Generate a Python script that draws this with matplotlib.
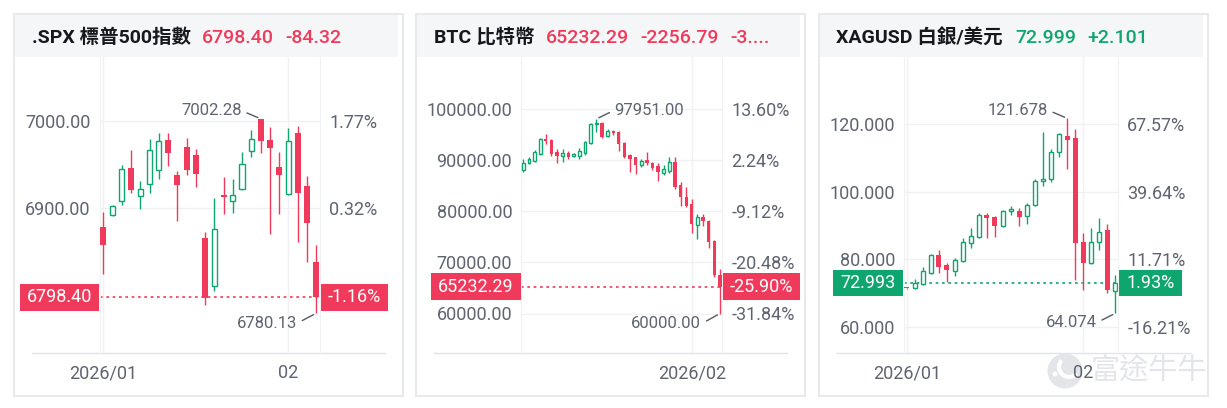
"""
三張日K小卡片：標普500、比特幣、白銀，仿富途牛牛行情卡。
"""

import numpy as np
import matplotlib
matplotlib.use("Agg")
import matplotlib.pyplot as plt
import matplotlib.transforms as mtransforms
from matplotlib.patches import Rectangle, Ellipse, Arc
from matplotlib.lines import Line2D

plt.rcParams.update({
    "font.family": ["Roboto", "Noto Sans CJK TC", "DejaVu Sans"],
    "font.size": 13,
})

RED = "#f03a5b"
GREEN = "#0fa56e"
TXT = "#5f6470"
GRID = "#f0f1f3"
AXLINE = "#e2e3e6"
BORDER = "#e8e9eb"
HEAD_BG = "#f5f6f8"

# ---------------------------------------------------------------------------
# Data
# ---------------------------------------------------------------------------
spx_open = [6878.2, 6892.0, 6908.2, 6945.8, 6913.8, 6927.7, 6943.9, 6977.8, 6937.9, 6969.5,
            6960.9, 6866.4, 6811.4, 6914.9, 6908.2, 6922.5, 6965.8, 7001.9, 6977.8, 6947.7,
            6916.5, 6985.4, 6925.1, 6838.5]
spx_high = [6895.7, 6903.3, 6949.6, 6966.5, 6931.5, 6978.6, 6986.5, 6986.5, 6942.1, 6979.7,
            6967.3, 6873.2, 6911.2, 6935.7, 6933.8, 6964.6, 6989.1, 7002.28, 6992.9, 6964.6,
            6992.1, 6994.0, 6936.4, 6858.5]
spx_low = [6824.6, 6891.2, 6903.3, 6917.6, 6899.5, 6917.6, 6933.4, 6948.5, 6885.6, 6938.3,
           6924.4, 6789.6, 6805.4, 6893.1, 6895.0, 6921.3, 6959.0, 6962.8, 6870.5, 6893.1,
           6914.9, 6861.9, 6838.5, 6780.13]
spx_close = [6858.5, 6902.5, 6945.1, 6920.6, 6922.1, 6966.5, 6977.1, 6963.5, 6926.2, 6943.9,
             6939.4, 6797.9, 6876.2, 6913.4, 6915.7, 6950.3, 6978.6, 6977.1, 6968.4, 6938.3,
             6976.7, 6917.6, 6882.72, 6798.40]
spx_yticks = [6900, 7000]
spx_xticks = [0, 20]
spx_xlabels = ["2026/01", "02"]
spx_header = [".SPX 標普500指數", "6798.40", "-84.32"]

btc_open = [88030, 89291, 89812, 91114, 94108, 93848, 91569, 90723, 91244, 90723,
            90723, 91244, 93197, 96908, 97103, 94629, 95606, 95476, 93327, 90918,
            90463, 88966, 89942, 89421, 88770, 87468, 87794, 89486, 85060, 82781,
            81349, 77248, 78875, 78094, 74188, 67489]
btc_high = [90072, 90593, 91895, 94304, 95020, 94043, 92025, 92025, 91700, 91374,
            92351, 93718, 97233, 97951, 97363, 95931, 95801, 95671, 93523, 91114,
            90593, 90072, 91439, 89617, 89291, 88966, 90593, 90593, 85710, 84604,
            82260, 79331, 79331, 78224, 74318, 68654]
btc_low = [87664, 89161, 89617, 90919, 92992, 90788, 89291, 89617, 90072, 90463,
           90072, 90919, 92992, 95476, 94174, 94499, 94890, 91765, 90268, 87664,
           87208, 88640, 88966, 87989, 85906, 87013, 87468, 84213, 80958, 80698,
           75620, 74448, 77052, 72821, 67157, 60000]
btc_close = [89421, 90072, 91439, 93978, 93588, 91114, 90723, 91244, 90593, 91049,
             91765, 93523, 96973, 97103, 94499, 95671, 95150, 93067, 90593, 90072,
             88900, 89812, 89291, 88315, 87664, 88184, 89617, 84734, 82781, 80958,
             77443, 78875, 78094, 73993, 67489, 65232.29]
btc_yticks = [60000, 70000, 80000, 90000, 100000]
btc_xticks = [30]
btc_xlabels = ["2026/02"]
btc_header = ["BTC 比特幣", "65232.29", "-2256.79", "-3...."]

xag_open = [71.611, 71.45, 72.73, 76.08, 81.30, 78.34, 76.67, 79.62, 84.94, 86.71,
            93.12, 92.62, 89.87, 94.39, 94.39, 92.92, 96.07, 103.26, 103.65, 111.83,
            116.45, 115.76, 85.24, 78.83, 85.24, 88.68, 70.76]
xag_high = [71.611, 74.11, 77.85, 81.59, 82.77, 78.84, 80.51, 86.22, 89.18, 93.61,
            93.61, 92.82, 94.59, 95.77, 95.08, 96.56, 103.65, 117.73, 112.52, 117.44,
            121.678, 118.42, 87.89, 89.18, 92.13, 90.46, 75.39]
xag_low = [71.40, 71.15, 72.43, 75.68, 76.08, 73.42, 75.19, 79.33, 83.27, 86.42,
           86.22, 86.52, 89.47, 93.12, 89.87, 90.46, 95.77, 101.68, 102.77, 110.15,
           106.61, 73.91, 70.96, 78.64, 82.77, 70.17, 64.074]
xag_close = [71.45, 72.93, 76.47, 81.30, 77.85, 76.87, 79.82, 85.04, 86.91, 93.12,
             92.13, 89.87, 94.30, 94.59, 92.62, 96.07, 103.26, 103.45, 111.83, 116.95,
             115.27, 84.94, 78.83, 85.24, 88.19, 70.898, 72.993]
xag_yticks = [60, 80, 100, 120]
xag_xticks = [0, 22]
xag_xlabels = ["2026/01", "02"]
xag_header = ["XAGUSD 白銀/美元", "72.999", "+2.101"]

# ---------------------------------------------------------------------------
# Layout (pixels)
# ---------------------------------------------------------------------------
W, H = 1227, 408
TOP, BOT = 57, 353
CARD_W = 389

fig = plt.figure(figsize=(W / 100, H / 100), dpi=100)
fig.patch.set_facecolor("white")


def fx(x):
    return x / W


def fy(y):
    return 1 - y / H


def card(cx, header, head_x, head_col):
    fig.add_artist(Rectangle((fx(cx), fy(396)), CARD_W / W, 382 / H,
                             transform=fig.transFigure, fc="white", ec=BORDER,
                             lw=1.5, zorder=-10))
    fig.add_artist(Rectangle((fx(cx + 1), fy(TOP)), (CARD_W - 6) / W, 42 / H,
                             transform=fig.transFigure, fc=HEAD_BG, ec="none",
                             zorder=-9))
    fig.add_artist(Line2D([fx(cx + 18), fx(cx + 371)], [fy(BOT), fy(BOT)],
                          transform=fig.transFigure, color=AXLINE, lw=1, zorder=-8))
    for i, (s, x) in enumerate(zip(header, head_x)):
        fig.text(fx(x), fy(43.3), s, fontsize=14, va="baseline",
                 color="#16181d" if i == 0 else head_col,
                 fontweight="bold" if i == 0 else "medium")


def candles(plot_x, x_first, step, cal, body_w, o, h, l, c,
            yticks, xticks, xlabels, dec, lbox, rbox, hi_off, lo_off):
    o, h, l, c = (np.asarray(a, dtype=float) for a in (o, h, l, c))
    x = np.arange(len(o))

    ax = fig.add_axes([fx(plot_x[0]), fy(BOT), (plot_x[1] - plot_x[0]) / W, (BOT - TOP) / H])
    ax.set_facecolor("none")
    v1, y1, v2, y2 = cal
    ppu = (y2 - y1) / (v1 - v2)          # pixels per price unit
    ax.set_ylim(v1 - (BOT - y1) / ppu, v1 + (y1 - TOP) / ppu)
    ax.set_xlim((plot_x[0] - x_first) / step, (plot_x[1] - x_first) / step)

    up = c >= o
    cols = np.where(up, GREEN, RED)
    ax.vlines(x, l, h, colors=cols, lw=1.0, zorder=2)
    minh = 1.3 / ppu
    bot = np.minimum(o, c)
    hgt = np.maximum(np.abs(c - o), minh)
    ax.bar(x[~up], hgt[~up], bottom=bot[~up], width=body_w, color=RED, lw=0, zorder=3)
    ax.bar(x[up], hgt[up], bottom=bot[up], width=body_w - 0.08, facecolor="white",
           edgecolor=GREEN, lw=1.0, zorder=3)

    last_col = GREEN if up[-1] else RED
    ax.axhline(c[-1], color=last_col, lw=1.2, ls=(0, (1.6, 2.2)), zorder=1)

    base = o[0]

    def pct(v):
        return f"{(v / base - 1) * 100:.2f}%"

    ax.set_yticks(yticks)
    ax.set_yticklabels([f"{t:.{dec}f}" for t in yticks])
    ax.set_xticks(xticks)
    ax.set_xticklabels(xlabels)
    ax.grid(True, color=GRID, lw=1)
    ax.set_axisbelow(True)
    for s in ("top", "bottom"):
        ax.spines[s].set_visible(False)
    for s in ("left", "right"):
        ax.spines[s].set_color(GRID)
    ax.tick_params(length=0, colors=TXT, labelsize=13)
    ax.tick_params(axis="y", pad=6.6)
    ax.tick_params(axis="x", pad=8)

    ax2 = ax.twinx()
    ax2.set_ylim(ax.get_ylim())
    ax2.set_yticks(yticks)
    ax2.set_yticklabels([pct(t) for t in yticks])
    ax2.tick_params(length=0, colors=TXT, labelsize=13, pad=6.6)
    for s in ax2.spines.values():
        s.set_visible(False)

    # 最新價標籤
    trans = mtransforms.blended_transform_factory(fig.transFigure, ax.transData)
    half = 13.3 / ppu
    for (bx0, bx1), s in ((lbox, f"{c[-1]:.{dec}f}"), (rbox, pct(c[-1]))):
        ax.add_patch(Rectangle((fx(bx0), c[-1] - half), (bx1 - bx0) / W, 2 * half,
                               transform=trans, fc=last_col, ec="none",
                               clip_on=False, zorder=5))
        ax.text(fx((bx0 + bx1) / 2), c[-1], s, transform=trans, ha="center",
                va="center", color="white", fontsize=13, clip_on=False, zorder=6)

    # 最高/最低標註
    ih, il = int(np.argmax(h)), int(np.argmin(l))
    for idx, val, off in ((ih, h[ih], hi_off), (il, l[il], lo_off)):
        right = off[0] < 0
        ax.annotate(f"{val:.{dec}f}", xy=(idx, val),
                    xytext=(off[0] * 0.72, -off[1] * 0.72), textcoords="offset points",
                    ha="right" if right else "left", va="center", color=TXT, fontsize=12,
                    arrowprops=dict(arrowstyle="-", color="#555a63", lw=1,
                                    shrinkA=2, shrinkB=2,
                                    relpos=(1, 0.5) if right else (0, 0.5)),
                    annotation_clip=False, zorder=6)
    return ax


# SPX
card(14, spx_header, [31.7, 201.7, 285], RED)
candles((100, 320), 103.3, 9.25, (7000, 120.7, 6900, 208.3), 0.65,
        spx_open, spx_high, spx_low, spx_close, spx_yticks, spx_xticks, spx_xlabels,
        2, (20, 99), (321, 388.3), (-19, -8), (-19, 10))

# BTC
card(416, btc_header, [434, 546.3, 640.3, 730.7], RED)
candles((521.3, 722.3), 523.3, 5.617, (100000, 108.5, 60000, 313.5), 0.58,
        btc_open, btc_high, btc_low, btc_close, btc_yticks, btc_xticks, btc_xlabels,
        2, (430.7, 520.7), (723.3, 799.7), (18.4, -9), (-18.6, 10.4))

# XAG
card(819, xag_header, [836, 1015, 1087.7], GREEN)
candles((904.3, 1118), 906.7, 8.023, (120, 124, 60, 327.1), 0.62,
        xag_open, xag_high, xag_low, xag_close, xag_yticks, xag_xticks, xag_xlabels,
        3, (832.7, 903.3), (1118.7, 1181.7), (-19.5, -8.3), (-18.6, 9.4))

# 浮水印
WM = "#e3e5e8"
fig.add_artist(Ellipse((fx(1065), fy(371)), 35 / W, 35 / H, transform=fig.transFigure,
                       fc=WM, ec="none", zorder=-5))
fig.add_artist(Arc((fx(1069), fy(367)), 20 / W, 20 / H, theta1=110, theta2=290,
                   transform=fig.transFigure, color="white", lw=3, zorder=-4))
fig.add_artist(Ellipse((fx(1055), fy(374)), 5 / W, 5 / H, transform=fig.transFigure,
                       fc="white", ec="none", zorder=-4))
fig.text(fx(1091), fy(372), "富途牛牛", fontsize=21, va="center", color=WM, zorder=-5)

fig.savefig("out.png", dpi=100, facecolor="white")
